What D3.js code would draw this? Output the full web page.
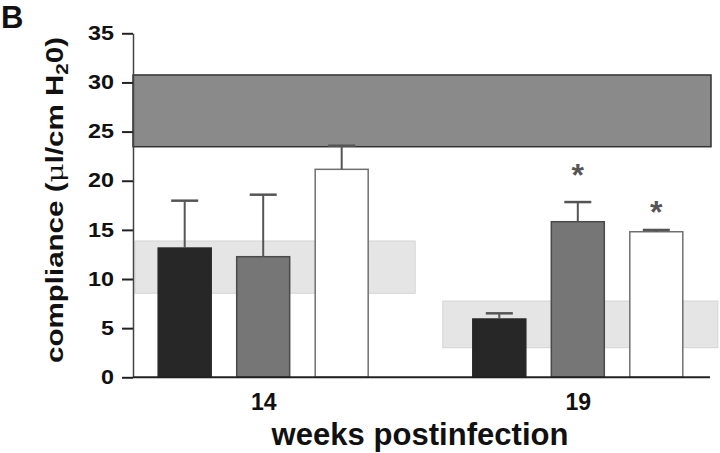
<!DOCTYPE html>
<html><head><meta charset="utf-8">
<script src="https://cdn.jsdelivr.net/npm/d3@7"></script>
<style>
html,body{margin:0;padding:0;background:#fff;}
text{font-family:"Liberation Sans",Arial,Helvetica,sans-serif;font-weight:bold;fill:#111;}
</style></head>
<body><svg id="c" width="720" height="453"></svg>
<script>
// ---- data ----
const weeks = ["14", "19"];
const groups = ["groupA", "groupB", "groupC"];
const means14 = [13.15, 12.27, 21.16];
const means19 = [5.93, 15.83, 14.81];
const err14 = [4.82, 6.31, 2.40];
const err19 = [0.58, 2.00, 0.18];
const starLevel19 = [null, 21.3, 17.5];   // asterisk heights (y-units) for week 19
const controlBand = [23.46, 30.76];        // dark reference band
const normalBand14 = [8.55, 13.87];        // light band, week 14
const normalBand19 = [3.01, 7.76];         // light band, week 19
const yTicks = [0, 5, 10, 15, 20, 25, 30, 35];

// ---- layout ----
const svg = d3.select("#c");
const plotL = 133, plotR = 710, plotT = 33.3, plotB = 377.3;
const y = d3.scaleLinear().domain([0, 35]).range([plotB, plotT]);
const x0 = d3.scalePoint().domain(weeks).range([132, 709]).padding(0.417);
const x1 = d3.scaleBand().domain(groups).range([-117.75, 117.75]).paddingInner(0.325).paddingOuter(0.1625);
const fills = {groupA: "#272727", groupB: "#767676", groupC: "#ffffff"};
const strokes = {groupA: "#272727", groupB: "#4a4a4a", groupC: "#707070"};

const rows = weeks.map((w, i) => ({
  week: w,
  bars: groups.map((g, j) => ({
    g,
    v: i === 0 ? means14[j] : means19[j],
    e: i === 0 ? err14[j] : err19[j],
    star: i === 0 ? null : starLevel19[j]
  }))
}));

// dark control band across the plot
svg.append("rect")
  .attr("x", plotL).attr("width", 578)
  .attr("y", y(controlBand[1])).attr("height", y(controlBand[0]) - y(controlBand[1]))
  .attr("fill", "#8a8a8a").attr("stroke", "#333").attr("stroke-width", 1.5);

// light normal-range bands
const lb = [
  {r: normalBand14, x1: plotL + 2, x2: x0("14") + 152},
  {r: normalBand19, x1: x0("19") - 135, x2: x0("19") + 140}
];
svg.selectAll("rect.lb").data(lb).join("rect").attr("class", "lb")
  .attr("x", d => d.x1).attr("width", d => d.x2 - d.x1)
  .attr("y", d => y(d.r[1])).attr("height", d => y(d.r[0]) - y(d.r[1]))
  .attr("fill", "#e5e5e5").attr("stroke", "#d4d4d4").attr("stroke-width", 1);

// bars
const gw = svg.selectAll("g.wk").data(rows).join("g").attr("class", "wk")
  .attr("transform", d => `translate(${x0(d.week)},0)`);
const bw = x1.bandwidth();
gw.selectAll("rect.bar").data(d => d.bars).join("rect").attr("class", "bar")
  .attr("x", d => x1(d.g)).attr("width", bw)
  .attr("y", d => y(d.v)).attr("height", d => y(0) - y(d.v))
  .attr("fill", d => fills[d.g]).attr("stroke", d => strokes[d.g]).attr("stroke-width", 1.5);

// error bars (upper only)
const cap = 27;
gw.selectAll("line.ev").data(d => d.bars).join("line").attr("class", "ev")
  .attr("x1", d => x1(d.g) + bw / 2).attr("x2", d => x1(d.g) + bw / 2)
  .attr("y1", d => y(d.v)).attr("y2", d => y(d.v + d.e))
  .attr("stroke", "#555").attr("stroke-width", 2);
gw.selectAll("line.ec").data(d => d.bars).join("line").attr("class", "ec")
  .attr("x1", d => x1(d.g) + bw / 2 - cap / 2).attr("x2", d => x1(d.g) + bw / 2 + cap / 2)
  .attr("y1", d => y(d.v + d.e)).attr("y2", d => y(d.v + d.e))
  .attr("stroke", "#555").attr("stroke-width", 2.5);

// significance asterisks
gw.selectAll("text.star").data(d => d.bars.filter(b => b.star != null)).join("text").attr("class", "star")
  .attr("x", d => x1(d.g) + bw / 2).attr("y", d => y(d.star) + 18)
  .attr("text-anchor", "middle").style("font-size", "32px").style("fill", "#555")
  .text("*");

// y axis
const ya = svg.append("g").attr("transform", `translate(${plotL},0)`)
  .call(d3.axisLeft(y).tickValues(yTicks).tickSize(11).tickSizeOuter(0).tickPadding(8));
ya.select(".domain").attr("stroke", "#444").attr("stroke-width", 1.5);
ya.selectAll(".tick line").attr("stroke", "#222").attr("stroke-width", 2);
ya.selectAll(".tick text").style("font-size", "19.5px").style("fill", "#111")
  .attr("font-family", null)
  .each(function (d) {
    const t = d3.select(this);
    if (String(d).length > 1) t.attr("textLength", 26).attr("lengthAdjust", "spacingAndGlyphs");
    else t.attr("textLength", 13).attr("lengthAdjust", "spacingAndGlyphs");
  });

// x axis
const xa = svg.append("g").attr("transform", `translate(0,${plotB})`)
  .call(d3.axisBottom(x0).tickSize(0).tickSizeOuter(0).tickPadding(16));
xa.select(".domain").attr("stroke", "#222").attr("stroke-width", 2).attr("d", `M${plotL},0H${plotR}`);
xa.selectAll(".tick text").style("font-size", "23px").style("fill", "#111").attr("font-family", null);

// titles
svg.append("text").attr("x", 420).attr("y", 445)
  .attr("text-anchor", "middle").style("font-size", "31px")
  .attr("textLength", 297).attr("lengthAdjust", "spacing")
  .text("weeks postinfection");

const yt = svg.append("text").attr("transform", "translate(63,200) rotate(-90)")
  .attr("text-anchor", "middle").style("font-size", "23px")
  .attr("textLength", 326).attr("lengthAdjust", "spacingAndGlyphs");
yt.append("tspan").text("compliance (");
yt.append("tspan").text("μ").style("font-family", "'DejaVu Serif',serif").style("font-weight", "normal");
yt.append("tspan").text("l/cm H");
yt.append("tspan").text("2").attr("dy", 5).style("font-size", "16px");
yt.append("tspan").text("0)").attr("dy", -5);

svg.append("text").attr("x", 1).attr("y", 28).style("font-size", "31px").text("B");
</script></body></html>
